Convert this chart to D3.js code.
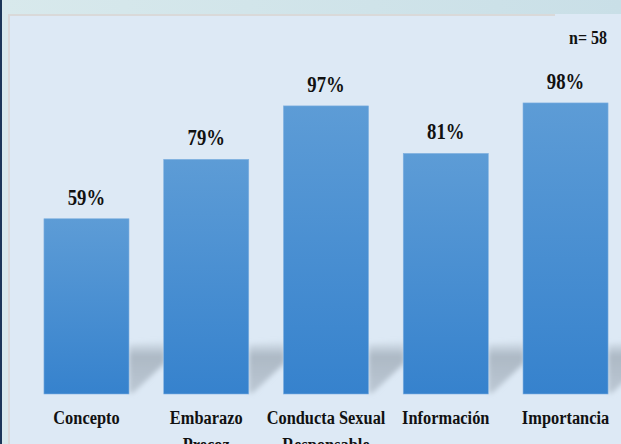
<!DOCTYPE html>
<html>
<head>
<meta charset="utf-8">
<script src="https://cdn.jsdelivr.net/npm/d3@7"></script>
<style>
  html, body { margin: 0; padding: 0; background: #d3e6ea; }
  svg { display: block; }
</style>
</head>
<body>
<svg id="chart" width="621" height="444"></svg>
<script>
const categories = ['Concepto', 'Embarazo Precoz', 'Conducta Sexual Responsable', 'Información', 'Importancia'];
const labelLines = [['Concepto'], ['Embarazo', 'Precoz'], ['Conducta Sexual', 'Responsable'], ['Información'], ['Importancia']];
const values = [59, 79, 97, 81, 98];
const sampleNote = 'n= 58';

const width = 621, height = 444;
const svg = d3.select('#chart');
const defs = svg.append('defs');

const topGrad = defs.append('linearGradient').attr('id', 'topband').attr('x1', 0).attr('x2', 1);
topGrad.append('stop').attr('offset', 0).attr('stop-color', '#d8e9ec');
topGrad.append('stop').attr('offset', 1).attr('stop-color', '#c9dfe7');

const barGrad = defs.append('linearGradient').attr('id', 'bargrad').attr('x1', 0).attr('x2', 0).attr('y1', 0).attr('y2', 1);
barGrad.append('stop').attr('offset', 0).attr('stop-color', '#5d9cd6');
barGrad.append('stop').attr('offset', 1).attr('stop-color', '#3682cd');

const shadowGrad = defs.append('linearGradient').attr('id', 'shadowgrad').attr('x1', 0).attr('x2', 0).attr('y1', 0).attr('y2', 1);
shadowGrad.append('stop').attr('offset', 0).attr('stop-color', '#aab6c2').attr('stop-opacity', 0);
shadowGrad.append('stop').attr('offset', 0.3).attr('stop-color', '#aab6c2').attr('stop-opacity', 0.95);
shadowGrad.append('stop').attr('offset', 1).attr('stop-color', '#b8c4d0').attr('stop-opacity', 0.9);

defs.append('filter').attr('id', 'blur').attr('x', '-20%').attr('y', '-20%').attr('width', '140%').attr('height', '140%')
  .append('feGaussianBlur').attr('stdDeviation', 2.5);

// background frame
svg.append('rect').attr('width', width).attr('height', height).attr('fill', 'url(#topband)');
svg.append('rect').attr('x', 0).attr('y', 0).attr('width', 2).attr('height', height).attr('fill', '#1b3658');
svg.append('rect').attr('x', 8).attr('y', 14).attr('width', width - 8).attr('height', height - 14).attr('fill', '#d9d9d9');
svg.append('rect').attr('x', 555).attr('y', 14).attr('width', width - 555).attr('height', 2).attr('fill', '#dde9f5');
svg.append('rect').attr('x', 10).attr('y', 16).attr('width', width - 10).attr('height', height - 16).attr('fill', '#dde9f5');

const x = d3.scaleBand()
  .domain(categories)
  .range([20, 632])
  .paddingInner(0.29)
  .paddingOuter(0.2);

const y = d3.scaleLinear().domain([0, 100]).range([394, 97]);

// shadows behind bars
const g = svg.append('g');
g.selectAll('path.shadow')
  .data(values)
  .enter()
  .append('path')
  .attr('class', 'shadow')
  .attr('filter', 'url(#blur)')
  .attr('fill', 'url(#shadowgrad)')
  .attr('d', (d, i) => {
    const x0 = x(categories[i]) + x.bandwidth();
    const w = 36;
    const b = y(0);
    return `M${x0},${b - 50} L${x0 + w},${b - 54} L${x0 + w},${b - 31} L${x0 + 4},${b - 1} L${x0},${b - 1} Z`;
  });

g.selectAll('rect.bar')
  .data(values)
  .enter()
  .append('rect')
  .attr('class', 'bar')
  .attr('x', (d, i) => x(categories[i]))
  .attr('y', d => y(d))
  .attr('width', x.bandwidth())
  .attr('height', d => y(0) - y(d))
  .attr('fill', 'url(#bargrad)')
  .attr('stroke', '#7fb0e0')
  .attr('stroke-width', 0.6);

const serif = '"Liberation Serif", "Times New Roman", serif';

g.selectAll('text.val')
  .data(values)
  .enter()
  .append('text')
  .attr('class', 'val')
  .attr('transform', (d, i) => `translate(${x(categories[i]) + x.bandwidth() / 2},${y(d) - 14}) scale(0.78,1)`)
  .attr('text-anchor', 'middle')
  .attr('font-family', serif)
  .attr('font-weight', 'bold')
  .attr('font-size', 24)
  .attr('fill', '#111')
  .text(d => d + '%');

const cat = g.selectAll('text.cat')
  .data(labelLines)
  .enter()
  .append('text')
  .attr('class', 'cat')
  .attr('transform', (d, i) => `translate(${x(categories[i]) + x.bandwidth() / 2},424) scale(0.84,1)`)
  .attr('text-anchor', 'middle')
  .attr('font-family', serif)
  .attr('font-weight', 'bold')
  .attr('font-size', 19.5)
  .attr('fill', '#111');

cat.selectAll('tspan')
  .data(d => d)
  .enter()
  .append('tspan')
  .attr('x', 0)
  .attr('dy', (d, j) => j === 0 ? 0 : 27)
  .text(d => d);

svg.append('text')
  .attr('transform', 'translate(607,44) scale(0.82,1)')
  .attr('text-anchor', 'end')
  .attr('font-family', serif)
  .attr('font-weight', 'bold')
  .attr('font-size', 19.5)
  .attr('fill', '#111')
  .text(sampleNote);
</script>
</body>
</html>
